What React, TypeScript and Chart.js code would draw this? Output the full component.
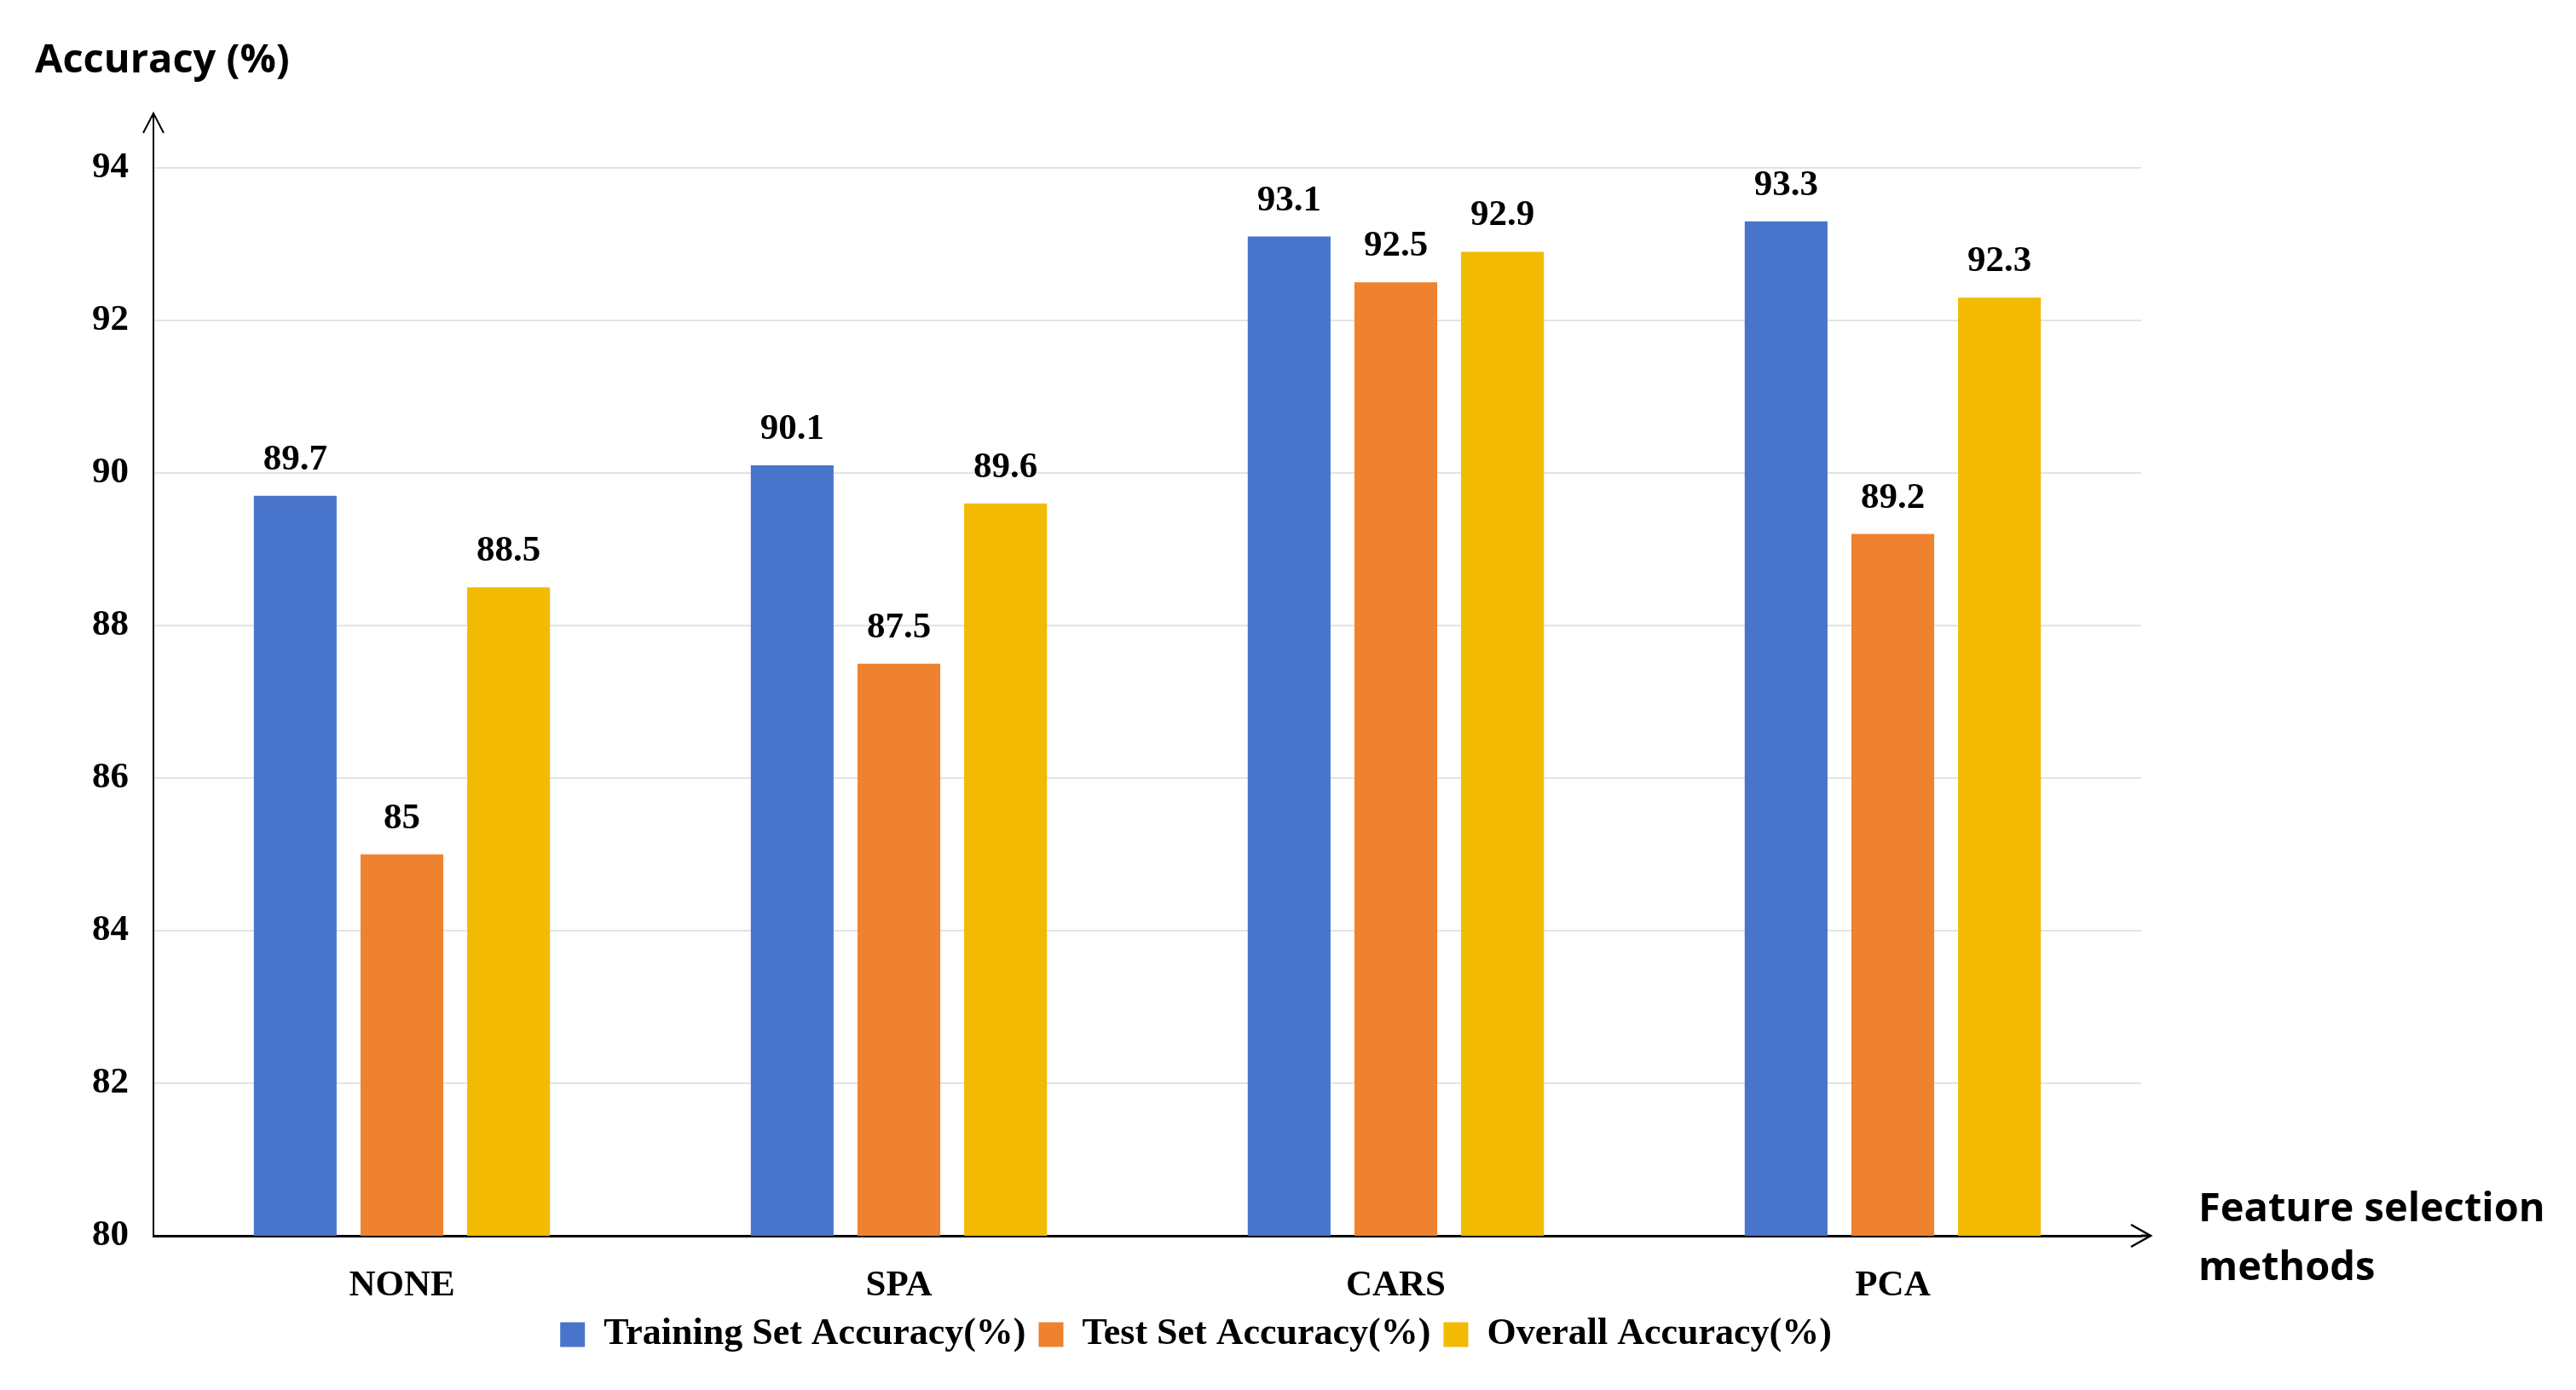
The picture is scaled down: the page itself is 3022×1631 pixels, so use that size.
import React, { useEffect, useRef } from 'react'
import { Chart, registerables, type ChartConfiguration, type Plugin } from 'chart.js'

Chart.register(...registerables)

const methods = ['NONE', 'SPA', 'CARS', 'PCA']
const trainAcc = [89.7, 90.1, 93.1, 93.3]
const testAcc = [85, 87.5, 92.5, 89.2]
const overallAcc = [88.5, 89.6, 92.9, 92.3]
const yTicks = [80, 82, 84, 86, 88, 90, 92, 94]

const SERIF = '"Liberation Serif", "Times New Roman", serif'
const SANS = '"Open Sans", "Noto Sans", sans-serif'

// value labels above bars + arrows + axis names
const decor: Plugin<'bar'> = {
  id: 'decor',
  afterDatasetsDraw(chart) {
    const { ctx } = chart
    ctx.save()
    ctx.fillStyle = '#000'
    ctx.font = `bold 43px ${SERIF}`
    ctx.textAlign = 'center'
    ctx.textBaseline = 'alphabetic'
    chart.data.datasets.forEach((ds, i) => {
      const meta = chart.getDatasetMeta(i)
      meta.data.forEach((el: any, j) => {
        ctx.fillText(String(ds.data[j]), el.x, el.y - 31)
      })
    })
    ctx.restore()
  },
  afterDraw(chart) {
    const { ctx, chartArea } = chart
    const { left, right, top, bottom } = chartArea
    ctx.save()
    ctx.strokeStyle = '#000'
    // y axis extension + arrow
    ctx.lineWidth = 2
    ctx.beginPath()
    ctx.moveTo(left, top)
    ctx.lineTo(left, top - 63)
    ctx.stroke()
    ctx.beginPath()
    ctx.moveTo(left - 12, top - 41)
    ctx.lineTo(left, top - 64)
    ctx.lineTo(left + 12, top - 41)
    ctx.stroke()
    // x axis extension + arrow
    ctx.lineWidth = 3
    ctx.beginPath()
    ctx.moveTo(right, bottom)
    ctx.lineTo(right + 11, bottom)
    ctx.stroke()
    ctx.lineWidth = 2.5
    ctx.beginPath()
    ctx.moveTo(right - 12, bottom - 13)
    ctx.lineTo(right + 11, bottom)
    ctx.lineTo(right - 12, bottom + 13)
    ctx.stroke()

    ctx.fillStyle = '#000'
    ctx.font = `bold 47px ${SANS}`
    ctx.textAlign = 'left'
    ctx.textBaseline = 'alphabetic'
    ctx.fillText('Accuracy (%)', 41, 85)
    ctx.fillText('Feature selection', 2579, 1433)
    ctx.fillText('methods', 2579, 1502)
    ctx.restore()
  },
}

export default function App() {
  const canvasRef = useRef<HTMLCanvasElement>(null)
  const chartRef = useRef<Chart | null>(null)

  useEffect(() => {
    if (!canvasRef.current) return
    chartRef.current?.destroy()

    const bar = { categoryPercentage: 0.644, barPercentage: 0.776, borderWidth: 0 }

    const cfg: ChartConfiguration<'bar'> = {
      type: 'bar',
      data: {
        labels: methods,
        datasets: [
          { label: 'Training Set Accuracy(%)', data: trainAcc, backgroundColor: '#4874CB', ...bar },
          { label: 'Test Set Accuracy(%)', data: testAcc, backgroundColor: '#EE822F', ...bar },
          { label: 'Overall Accuracy(%)', data: overallAcc, backgroundColor: '#F2BA02', ...bar },
        ],
      },
      options: {
        responsive: true,
        maintainAspectRatio: false,
        animation: false,
        layout: { padding: { top: 197, left: 0, right: 216, bottom: 33 } },
        plugins: {
          tooltip: { enabled: false },
          legend: {
            position: 'bottom',
            labels: {
              color: '#000',
              font: { family: SERIF, size: 44, weight: 'bold' },
              boxWidth: 29,
              boxHeight: 29,
              padding: 15,
            },
          },
        },
        scales: {
          x: {
            grid: { display: false },
            border: { color: '#000', width: 3 },
            ticks: { color: '#000', font: { family: SERIF, size: 43, weight: 'bold' }, padding: 25 },
            afterFit: (s: any) => { s.height = 79 },
          },
          y: {
            min: 80,
            max: 94,
            afterBuildTicks: (s: any) => { s.ticks = yTicks.map(v => ({ value: v })) },
            grid: { color: '#E3E3E3', lineWidth: 2, drawTicks: false },
            border: { color: '#000', width: 2 },
            ticks: { color: '#000', font: { family: SERIF, size: 43, weight: 'bold' }, padding: 29 },
            afterFit: (s: any) => { s.width = 180 },
          },
          spacer: {
            position: 'right',
            grid: { display: false },
            border: { display: false },
            ticks: { display: false },
            afterFit: (s: any) => { s.width = 294 },
          },
        },
      },
      plugins: [decor],
    }
    chartRef.current = new Chart(canvasRef.current, cfg)
    return () => { chartRef.current?.destroy() }
  }, [])

  return (
    <div style={{ position: 'absolute', left: 0, top: 0, width: 3022, height: 1631, background: '#fff' }}>
      <canvas ref={canvasRef} />
    </div>
  )
}
